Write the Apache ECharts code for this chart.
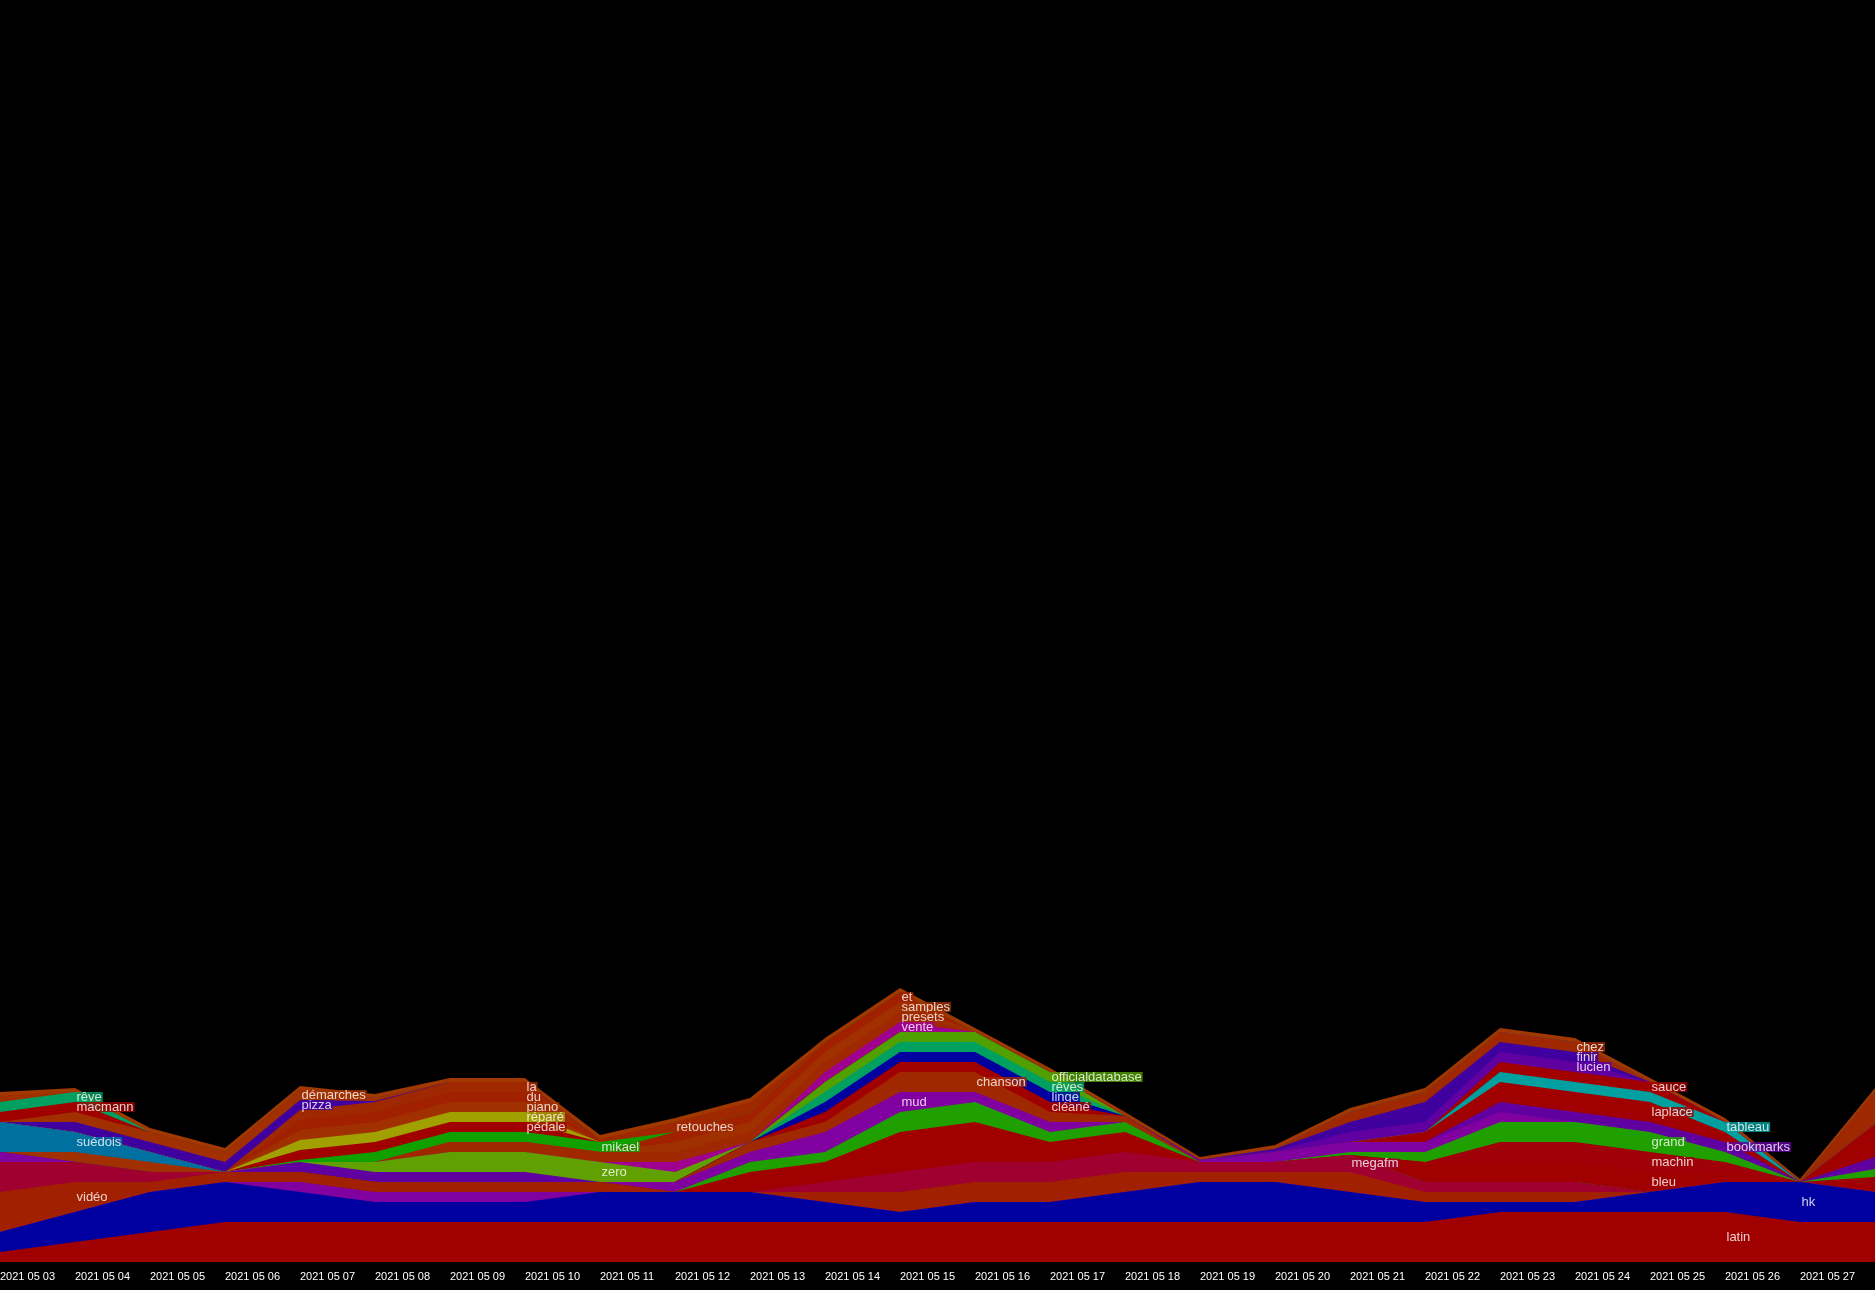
<!DOCTYPE html>
<html><head><meta charset="utf-8">
<script src="https://cdn.jsdelivr.net/npm/echarts/dist/echarts.min.js"></script>
<style>html,body{margin:0;padding:0;background:#000;}#c{width:1875px;height:1290px;}</style>
</head><body><div id="c"></div>
<script>
// ---- data ----
const dates = ['2021 05 03','2021 05 04','2021 05 05','2021 05 06','2021 05 07','2021 05 08','2021 05 09','2021 05 10','2021 05 11','2021 05 12','2021 05 13','2021 05 14','2021 05 15','2021 05 16','2021 05 17','2021 05 18','2021 05 19','2021 05 20','2021 05 21','2021 05 22','2021 05 23','2021 05 24','2021 05 25','2021 05 26','2021 05 27','2021 05 28'];
//                         03 04 05 06 07 08 09 10 11 12 13 14 15 16 17 18 19 20 21  22 23 24 25 26 27 28
const latin            = [1, 2, 3, 4, 4, 4, 4, 4, 4, 4, 4, 4, 4, 4, 4, 4, 4, 4, 4,   4, 5, 5, 5, 5, 4, 4];
const hk               = [2, 3, 4, 4, 3, 2, 2, 2, 3, 3, 3, 2, 1, 2, 2, 3, 4, 4, 3,   2, 1, 1, 2, 3, 4, 3];
const violetA          = [0, 0, 0, 0, 1, 1, 1, 1, 0, 0, 0, 0, 0, 0, 0, 0, 0, 0, 0,   0, 0, 0, 0, 0, 0, 0];
const video            = [4, 3, 1, 1, 1, 1, 1, 1, 1, 0, 0, 1, 2, 2, 2, 2, 1, 1, 2,   1, 1, 1, 0, 0, 0, 0];
const megafm           = [3, 2, 1, 0, 0, 0, 0, 0, 0, 0, 0, 1, 2, 2, 2, 2, 1, 1, 1.7, 1, 1, 1, 0, 0, 0, 0];
const rougeA           = [0, 0, 0, 0, 0, 0, 0, 0, 0, 0, 2, 2, 4, 4, 2, 2, 0, 0, 0,   0, 0, 0, 0, 0, 0, 0];
const vertA            = [0, 0, 0, 0, 0, 0, 0, 0, 0, 0, 1, 1, 2, 2, 1, 1, 0, 0, 0,   0, 0, 0, 0, 0, 0, 0];
const mud              = [0, 0, 0, 0, 0, 0, 0, 0, 0, 1, 1, 2, 2, 1, 1, 0, 0, 0, 0,   0, 0, 0, 0, 0, 0, 0];
const chanson          = [0, 0, 0, 0, 0, 0, 0, 0, 0, 0, 1, 1, 2, 2, 1, 0.6, 0, 0, 0, 0, 0, 0, 0, 0, 0, 0];
const cleane           = [0, 0, 0, 0, 0, 0, 0, 0, 0, 0, 0, 1, 1, 1, 1, 0, 0, 0, 0,   0, 0, 0, 0, 0, 0, 0];
const linge            = [0, 0, 0, 0, 0, 0, 0, 0, 0, 0, 0, 1, 1, 1, 1, 0, 0, 0, 0,   0, 0, 0, 0, 0, 0, 0];
const reves            = [0, 0, 0, 0, 0, 0, 0, 0, 0, 0, 0, 1, 1, 1, 1, 0, 0, 0, 0,   0, 0, 0, 0, 0, 0, 0];
const officialdatabase = [0, 0, 0, 0, 0, 0, 0, 0, 0, 0, 0, 1, 1, 1, 1, 0, 0, 0, 0,   0, 0, 0, 0, 0, 0, 0];
const bleu             = [0, 0, 0, 0, 0, 0, 0, 0, 0, 0, 0, 0, 0, 0, 0, 0, 0, 0, 0,   2, 2, 2, 2, 1, 0, 0.8];
const machin           = [0, 0, 0, 0, 0, 0, 0, 0, 0, 0, 0, 0, 0, 0, 0, 0, 0, 0, 0,   0, 2, 2, 2, 1, 0, 0.7];
const grand            = [0, 0, 0, 0, 0, 0, 0, 0, 0, 0, 0, 0, 0, 0, 0, 0, 0, 0, 0.3, 1, 2, 2, 2, 1, 0, 0.8];
const violetB          = [1, 0, 0, 0, 0, 0, 0, 0, 0, 0, 0, 0, 0, 0, 0, 0, 0.2, 1, 1, 1, 1, 0, 0, 0, 0, 0];
const bookmarks        = [0, 0, 0, 0, 0, 0, 0, 0, 0, 0, 0, 0, 0, 0, 0, 0, 0, 0, 0,   0, 1, 1, 1, 1, 0, 1.2];
const laplace          = [0, 0, 0, 0, 0, 0, 0, 0, 0, 0, 0, 0, 0, 0, 0, 0, 0, 0, 0,   1, 2, 2, 2, 1, 0, 3.3];
const tableau          = [0, 0, 0, 0, 0, 0, 0, 0, 0, 0, 0, 0, 0, 0, 0, 0, 0, 0, 0,   0, 1, 1, 1, 1, 0, 0];
const sauce            = [0, 0, 0, 0, 0, 0, 0, 0, 0, 0, 0, 0, 0, 0, 0, 0, 0, 0, 0,   0, 1, 1, 1, 0, 0, 0];
const lucien           = [0, 0, 0, 0, 0, 0, 0, 0, 0, 0, 0, 0, 0, 0, 0, 0, 0, 0.15, 1, 1, 1, 1, 0, 0, 0, 0];
const finir            = [0, 0, 0, 0, 0, 0, 0, 0, 0, 0, 0, 0, 0, 0, 0, 0, 0, 0.15, 1, 2, 1, 1, 0, 0, 0, 0];
const chez             = [0, 0, 0, 0, 0, 0, 0, 0, 0, 0, 0, 0, 0, 0, 0, 0, 0, 0, 1,   1, 1, 1, 0, 0, 0, 3.2];
const orangeA          = [0, 1, 1, 0, 0, 0, 0, 0, 0, 0, 0, 0, 0, 0, 0, 0, 0, 0, 0,   0, 0, 0, 0, 0, 0, 0];
const suedois          = [3, 2, 1, 0, 0, 0, 0, 0, 0, 0, 0, 0, 0, 0, 0, 0, 0, 0, 0,   0, 0, 0, 0, 0, 0, 0];
const violetC          = [0, 0, 0, 0, 1, 1, 1, 1, 0, 0, 0, 0, 0, 0, 0, 0, 0, 0, 0,   0, 0, 0, 0, 0, 0, 0];
const zero             = [0, 0, 0, 0, 0, 1, 2, 2, 2, 1, 0, 0, 0, 0, 0, 0, 0, 0, 0,   0, 0, 0, 0, 0, 0, 0];
const vente            = [0, 0, 0, 0, 0, 0, 0, 0, 0, 1, 0, 1, 1, 0, 0, 0, 0, 0, 0,   0, 0, 0, 0, 0, 0, 0];
const presets          = [0, 0, 0, 0, 0, 0, 1, 1, 1, 1, 1, 1, 1, 0, 0, 0, 0, 0, 0,   0, 0, 0, 0, 0, 0, 0];
const samples          = [0, 0, 0, 0, 0, 0, 0, 0, 0, 1, 1, 1, 1, 0, 0, 0, 0, 0, 0,   0, 0, 0, 0, 0, 0, 0];
const et               = [0, 0, 0, 0, 0, 0, 0, 0, 0, 1, 1, 1, 1, 0, 0, 0, 0, 0, 0,   0, 0, 0, 0, 0, 0, 0];
const mikael           = [0, 0, 0, 0, 0.2, 1, 1, 1, 1, 0, 0, 0, 0, 0, 0, 0, 0, 0, 0, 0, 0, 0, 0, 0, 0, 0];
const pedale           = [0, 0, 0, 0, 1, 1, 1, 1, 0, 0, 0, 0, 0, 0, 0, 0, 0, 0, 0,   0, 0, 0, 0, 0, 0, 0];
const repare           = [0, 0, 0, 0, 1, 1, 1, 1, 0, 0, 0, 0, 0, 0, 0, 0, 0, 0, 0,   0, 0, 0, 0, 0, 0, 0];
const piano            = [0, 0, 0, 0, 1, 1, 1, 1, 0, 0, 0, 0, 0, 0, 0, 0, 0, 0, 0,   0, 0, 0, 0, 0, 0, 0];
const du               = [0, 0, 0, 0, 1, 1, 1, 1, 0, 0, 0, 0, 0, 0, 0, 0, 0, 0, 0,   0, 0, 0, 0, 0, 0, 0];
const la               = [0, 0, 0, 0, 1, 1, 1, 1, 0, 0, 0, 0, 0, 0, 0, 0, 0, 0, 0,   0, 0, 0, 0, 0, 0, 0];
const pizza            = [0, 1, 1, 1, 1, 0.1, 0, 0, 0, 0, 0, 0, 0, 0, 0, 0, 0, 0, 0, 0, 0, 0, 0, 0, 0, 0];
const demarches        = [0, 1, 1, 1, 1, 0.3, 0, 0, 0, 0, 0, 0, 0, 0, 0, 0, 0, 0, 0, 0, 0, 0, 0, 0, 0, 0];
const macmann          = [1, 1, 0, 0, 0, 0, 0, 0, 0, 0, 0, 0, 0, 0, 0, 0, 0, 0, 0,   0, 0, 0, 0, 0, 0, 0];
const reve             = [1, 1, 0, 0, 0, 0, 0, 0, 0, 0, 0, 0, 0, 0, 0, 0, 0, 0, 0,   0, 0, 0, 0, 0, 0, 0];
const orangeB          = [0.6, 0, 0, 0, 0, 0, 0, 0, 0, 0, 0, 0, 0, 0, 0, 0, 0, 0, 0, 0, 0, 0, 0, 0, 0, 0];
const retouches        = [0, 0, 0, 0, 0, 0, 0, 0, 0.3, 1, 1, 0, 0, 0, 0, 0, 0, 0, 0, 0, 0, 0, 0, 0, 0, 0];
const autres           = [0.4, 0.4, 0.4, 0.4, 0.4, 0.4, 0.4, 0.4, 0.4, 0.4, 0.4, 0.4, 0.4, 0.4, 0.4, 0.4, 0.3, 0.4, 0.4, 0.4, 0.4, 0.4, 0.4, 0.4, 0.3, 0.4];

// stacking order bottom -> top, with display name and colour
const layers = [
  ['latin', latin, '#a00000'], ['hk', hk, '#0000a0'], ['violetA', violetA, '#8000a0'],
  ['vidéo', video, '#a02000'], ['megafm', megafm, '#a00030'], ['rougeA', rougeA, '#a00000'],
  ['vertA', vertA, '#20a000'], ['mud', mud, '#8000a0'], ['chanson', chanson, '#a02800'],
  ['cléané', cleane, '#a00000'], ['linge', linge, '#0000a0'], ['rêves', reves, '#00a060'],
  ['officialdatabase', officialdatabase, '#50a000'], ['bleu', bleu, '#a00000'], ['machin', machin, '#a00008'],
  ['grand', grand, '#20a000'], ['violetB', violetB, '#8000a0'], ['bookmarks', bookmarks, '#6000a0'],
  ['laplace', laplace, '#a00000'], ['tableau', tableau, '#00a0a0'], ['sauce', sauce, '#a00000'],
  ['lucien', lucien, '#6000a0'], ['finir', finir, '#4000a0'], ['chez', chez, '#a02800'],
  ['orangeA', orangeA, '#a03000'], ['suédois', suedois, '#0070a0'], ['violetC', violetC, '#6000a0'],
  ['zero', zero, '#60a000'], ['vente', vente, '#a00090'], ['presets', presets, '#a02800'],
  ['samples', samples, '#a03000'], ['et', et, '#a02000'], ['mikael', mikael, '#10a000'],
  ['pédale', pedale, '#a00000'], ['réparé', repare, '#a0a000'], ['piano', piano, '#a03000'],
  ['du', du, '#a02000'], ['la', la, '#a02800'], ['pizza', pizza, '#4000a0'],
  ['démarches', demarches, '#a03000'], ['macmann', macmann, '#a00000'], ['rêve', reve, '#00a060'],
  ['orangeB', orangeB, '#a03000'], ['retouches', retouches, '#a02800'], ['autres', autres, '#a03800']
];

// where each word's label sits
const labelAt = [
  ['rêve','2021 05 04'],['macmann','2021 05 04'],['suédois','2021 05 04'],['vidéo','2021 05 04'],
  ['démarches','2021 05 07'],['pizza','2021 05 07'],
  ['la','2021 05 10'],['du','2021 05 10'],['piano','2021 05 10'],['réparé','2021 05 10'],['pédale','2021 05 10'],
  ['mikael','2021 05 11'],['zero','2021 05 11'],['retouches','2021 05 12'],
  ['et','2021 05 15'],['samples','2021 05 15'],['presets','2021 05 15'],['vente','2021 05 15'],['mud','2021 05 15'],
  ['chanson','2021 05 16'],
  ['officialdatabase','2021 05 17'],['rêves','2021 05 17'],['linge','2021 05 17'],['cléané','2021 05 17'],
  ['megafm','2021 05 21'],
  ['chez','2021 05 24'],['finir','2021 05 24'],['lucien','2021 05 24'],
  ['sauce','2021 05 25'],['laplace','2021 05 25'],['grand','2021 05 25'],['machin','2021 05 25'],['bleu','2021 05 25'],
  ['tableau','2021 05 26'],['bookmarks','2021 05 26'],['latin','2021 05 26'],
  ['hk','2021 05 27']
];

// ---- chart ----
const FONT = '"Liberation Sans", Arial, sans-serif';
const cum = [];
let run = dates.map(() => 0);
layers.forEach(l => { run = run.map((s, i) => s + l[1][i]); cum.push(run.slice()); });

const series = [];
for (let k = layers.length - 1; k >= 0; k--) {
  series.push({
    name: layers[k][0], type: 'line', data: cum[k], symbol: 'none', silent: true,
    lineStyle: { width: 0 }, itemStyle: { color: layers[k][2] },
    areaStyle: { color: layers[k][2], opacity: 1, origin: 'start' },
    emphasis: { disabled: true }, z: 2
  });
}
const labelData = labelAt.map(([name, d]) => {
  const k = layers.findIndex(l => l[0] === name);
  const i = dates.indexOf(d);
  const bottom = k > 0 ? cum[k - 1][i] : 0;
  return { name, value: [i, bottom + layers[k][1][i] / 2],
           label: { backgroundColor: layers[k][2] } };
});
series.push({
  type: 'scatter', data: labelData, symbolSize: 1, itemStyle: { color: 'rgba(0,0,0,0)' }, silent: true, z: 10,
  label: { show: true, position: 'right', distance: 0, formatter: '{b}', color: '#ffffff',
           fontSize: 13, fontFamily: FONT, lineHeight: 10, padding: [0, 1, 0, 1] },
  labelLayout: { hideOverlap: false }
});

const chart = echarts.init(document.getElementById('c'));
chart.setOption({
  backgroundColor: '#000000', animation: false,
  grid: { left: 0, right: 0, top: 0, bottom: 28, containLabel: false, outerBoundsMode: 'none' },
  xAxis: { type: 'category', data: dates, boundaryGap: false,
           axisLine: { show: false }, axisTick: { show: false }, splitLine: { show: false },
           axisLabel: { interval: 0, align: 'left', color: '#ffffff', fontSize: 11, fontFamily: FONT, margin: 9,
                        showMaxLabel: true } },
  yAxis: { type: 'value', min: 0, max: 126.2, show: false, splitLine: { show: false } },
  series
});
</script></body></html>
